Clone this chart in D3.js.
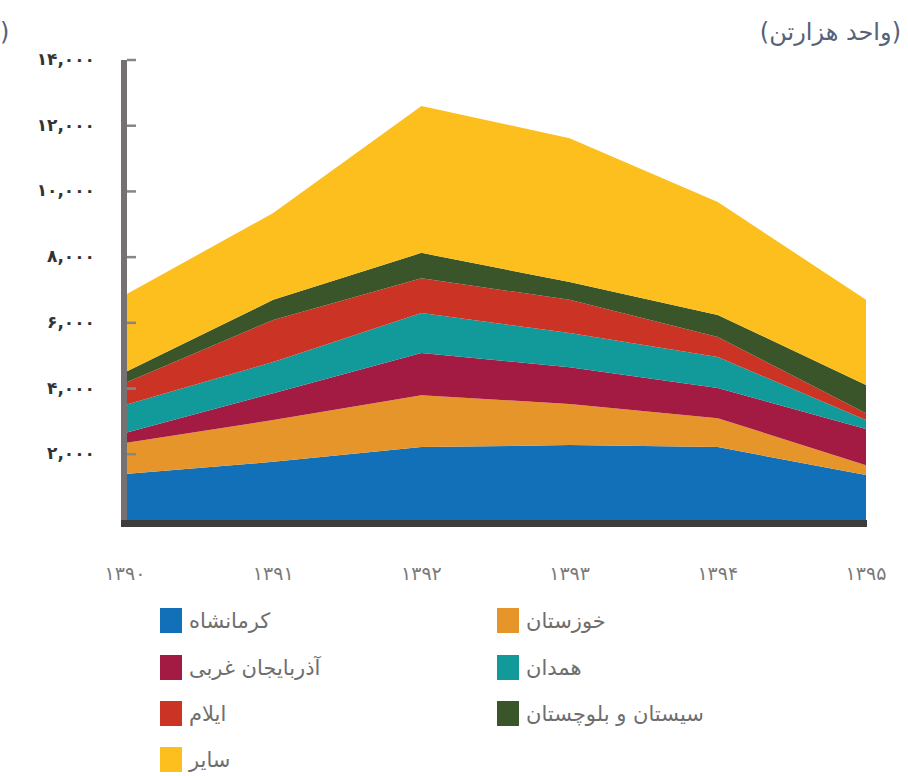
<!DOCTYPE html>
<html lang="fa">

<head>
    <meta charset="UTF-8">
    <title>Stacked area</title>
    <script src="https://d3js.org/d3.v7.min.js"></script>
    <style>
        body {
            margin: 0;
            background: white;
        }

        .ytick {
            font-family: "DejaVu Sans", sans-serif;
            font-weight: bold;
            font-size: 17px;
            letter-spacing: 4px;
            fill: #333;
        }

        .xtick {
            font-family: "DejaVu Sans", sans-serif;
            font-size: 19px;
            letter-spacing: 2px;
            fill: #7a7a7a;
        }

        .legend-text {
            font-family: "DejaVu Sans", sans-serif;
            font-size: 21px;
            fill: #6e6e6e;
        }

        .unit {
            font-family: "DejaVu Sans", sans-serif;
            font-size: 24px;
            fill: #56617a;
        }
    </style>
</head>

<body>
    <svg width="908" height="776"></svg>

    <script>
        // Data (thousand tonnes), years 1390-1395
        const years = ["۱۳۹۰", "۱۳۹۱", "۱۳۹۲", "۱۳۹۳", "۱۳۹۴", "۱۳۹۵"];
        const series = ["کرمانشاه", "خوزستان", "آذربایجان غربی", "همدان", "ایلام", "سیستان و بلوچستان", "سایر"];
        const kermanshah = [1400, 1770, 2220, 2280, 2220, 1370];
        const khuzestan = [940, 1270, 1580, 1250, 880, 300];
        const azarbaijan = [310, 820, 1280, 1120, 920, 1100];
        const hamedan = [850, 950, 1220, 1040, 940, 270];
        const ilam = [670, 1280, 1060, 1010, 610, 210];
        const sistan = [330, 610, 770, 540, 670, 860];
        const other = [2350, 2640, 4470, 4380, 3440, 2590];
        const yTicks = [2000, 4000, 6000, 8000, 10000, 12000, 14000];

        const colors = ["#1170b8", "#e6952a", "#a31a42", "#129a9a", "#cb3325", "#3b552a", "#fcbf1e"];
        const values = [kermanshah, khuzestan, azarbaijan, hamedan, ilam, sistan, other];

        const table = years.map((y, i) => {
            const row = { year: i };
            series.forEach((s, k) => row[s] = values[k][i]);
            return row;
        });

        const svg = d3.select("svg");

        const x = d3.scaleLinear().domain([0, years.length - 1]).range([125, 866]);
        const y = d3.scaleLinear().domain([0, 14000]).range([520, 60]);

        const stack = d3.stack().keys(series);
        const layers = stack(table);

        const area = d3.area()
            .x(d => x(d.data.year))
            .y0(d => y(d[0]))
            .y1(d => y(d[1]));

        svg.append("g")
            .selectAll("path")
            .data(layers)
            .enter().append("path")
            .attr("d", area)
            .attr("fill", (d, i) => colors[i]);

        // persian digits
        const fa = s => String(s).replace(/\d/g, c => "۰۱۲۳۴۵۶۷۸۹"[c]);

        // y axis
        svg.append("line")
            .attr("x1", 124).attr("x2", 124)
            .attr("y1", y(14000)).attr("y2", 527)
            .attr("stroke", "#767170")
            .attr("stroke-width", 6);

        svg.append("g")
            .selectAll("line")
            .data(yTicks)
            .enter().append("line")
            .attr("x1", 127).attr("x2", 136)
            .attr("y1", d => y(d)).attr("y2", d => y(d))
            .attr("stroke", "#8a8484")
            .attr("stroke-width", 2.5);

        svg.append("g")
            .selectAll("text")
            .data(yTicks)
            .enter().append("text")
            .attr("class", "ytick")
            .attr("x", 95)
            .attr("y", d => y(d) + 5)
            .attr("text-anchor", "end")
            .text(d => fa(d3.format(",")(d)));

        // baseline
        svg.append("line")
            .attr("x1", 121).attr("x2", x(years.length - 1) + 1)
            .attr("y1", 523.5).attr("y2", 523.5)
            .attr("stroke", "#3d3d3d")
            .attr("stroke-width", 7);

        // x labels
        svg.append("g")
            .selectAll("text")
            .data(years)
            .enter().append("text")
            .attr("class", "xtick")
            .attr("x", (d, i) => x(i))
            .attr("y", 580)
            .attr("text-anchor", "middle")
            .text(d => d);

        // unit label
        svg.append("text")
            .attr("class", "unit")
            .attr("x", 901)
            .attr("y", 40)
            .attr("text-anchor", "end")
            .text("(واحد هزارتن)");

        svg.append("text")
            .attr("class", "unit")
            .attr("x", 0)
            .attr("y", 40)
            .text(")");

        // legend
        const legendPos = [
            [160, 608], [497, 608],
            [160, 655], [497, 655],
            [160, 701], [497, 701],
            [160, 747]
        ];

        const legend = svg.append("g")
            .selectAll("g")
            .data(series)
            .enter().append("g")
            .attr("transform", (d, i) => `translate(${legendPos[i][0]},${legendPos[i][1]})`);

        legend.append("rect")
            .attr("width", 22)
            .attr("height", 25)
            .attr("fill", (d, i) => colors[i]);

        legend.append("text")
            .attr("class", "legend-text")
            .attr("x", 29)
            .attr("y", 20)
            .text(d => d);
    </script>
</body>

</html>
